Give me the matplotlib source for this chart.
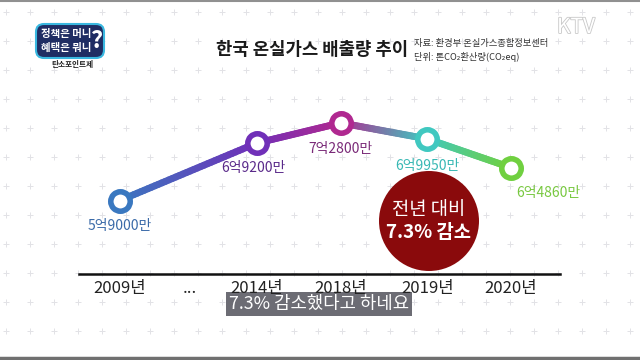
import matplotlib.pyplot as plt
import matplotlib.patheffects as pe
import numpy as np
from matplotlib.collections import LineCollection
from matplotlib.colors import to_rgb
from matplotlib.patches import Circle, FancyBboxPatch

plt.rcParams['font.family'] = ['Noto Sans CJK KR', 'DejaVu Sans']

# 데이터 (단위: 만 톤 CO2eq)
years = ['2009년', '2014년', '2018년', '2019년', '2020년']
emissions = [59000, 69200, 72800, 69950, 64860]
value_labels = ['5억9000만', '6억9200만', '7억2800만', '6억9950만', '6억4860만']

# 레이아웃 / 스타일
xpos = np.array([0, 1.61, 2.6, 3.62, 4.6])
point_colors = ['#3a78c0', '#7030b8', '#b02890', '#40c8c0', '#70d040']
label_colors = ['#3a6aa8', '#5a2a8a', '#7a2a78', '#38b8b4', '#78c840']

fig = plt.figure(figsize=(6.4, 3.6), dpi=100)
fig.patch.set_facecolor('white')

# 배경 + 무늬
bg = fig.add_axes([0, 0, 1, 1])
bg.set_xlim(0, 640)
bg.set_ylim(360, 0)
bg.axis('off')
gx, gy = np.meshgrid(np.arange(6, 640, 24), np.arange(12, 360, 29))
bg.scatter(gx.ravel(), gy.ravel(), marker='+', s=22, color='#e2e2e6', linewidths=0.7)
bg.plot([0, 640], [358, 358], color='#707070', lw=2.5)
bg.plot([0, 640], [0.5, 0.5], color='#909090', lw=1.5)

# 로고
bg.add_patch(FancyBboxPatch((38, 26), 64, 30, boxstyle='round,pad=2,rounding_size=8',
                            fc='#1f2d63', ec='#3ab8e0', lw=1.5))
bg.text(66, 34, '정책은 머니', color='white', fontsize=7.5, fontweight='bold', ha='center', va='center')
bg.text(66, 48, '혜택은 뭐니', color='white', fontsize=7.5, fontweight='bold', ha='center', va='center')
bg.text(97, 41, '?', color='white', fontsize=17, fontweight='bold', ha='center', va='center')
bg.text(72, 65, '탄소포인트제', color='#222222', fontsize=5.5, fontweight='bold', ha='center', va='center')
bg.text(576, 27, 'KTV', color='white', fontsize=15, ha='center', va='center',
        path_effects=[pe.withStroke(linewidth=1.2, foreground='#c8c8c8')])

# 제목 / 출처
bg.text(408, 50, '한국 온실가스 배출량 추이', fontsize=12.8, fontweight='bold',
        color='#1a1a1a', ha='right', va='center')
bg.text(414, 43, '자료: 환경부 온실가스종합정보센터', fontsize=6.7, color='#333333', ha='left', va='center')
bg.text(414, 57, '단위: 톤CO₂환산량(CO₂eq)', fontsize=6.7, color='#333333', ha='left', va='center')

# 차트
ax = fig.add_axes([79 / 640, 1 - 274 / 360, (560 - 79) / 640, 174 / 360])
ax.set_xlim(-0.48, 5.18)
ax.set_ylim(45935, 76869)
ax.patch.set_alpha(0)
for s in ['top', 'right', 'left']:
    ax.spines[s].set_visible(False)
ax.spines['bottom'].set_linewidth(1.8)
ax.spines['bottom'].set_color('#111111')
ax.set_yticks([])

tick_pos = list(xpos[:1]) + [0.82] + list(xpos[1:])
tick_lab = years[:1] + ['...'] + years[1:]
ax.set_xticks(tick_pos)
ax.set_xticklabels(tick_lab, fontsize=12, color='#222222')
ax.tick_params(axis='x', length=0, pad=4)

# 그라데이션 선
segs, cols = [], []
for i in range(len(xpos) - 1):
    c0, c1 = np.array(to_rgb(point_colors[i])), np.array(to_rgb(point_colors[i + 1]))
    t = np.linspace(0, 1, 40)
    xs = xpos[i] + (xpos[i + 1] - xpos[i]) * t
    ys = emissions[i] + (emissions[i + 1] - emissions[i]) * t
    for k in range(len(t) - 1):
        segs.append([(xs[k], ys[k]), (xs[k + 1], ys[k + 1])])
        cols.append(c0 + (c1 - c0) * (t[k] + t[k + 1]) / 2)
ax.add_collection(LineCollection(segs, colors=cols, linewidths=5, capstyle='round', zorder=2))

for x, y, c in zip(xpos, emissions, point_colors):
    ax.plot(x, y, 'o', ms=14, mfc='white', mec=c, mew=4, zorder=3)

offsets = [(0, -25), (-3, -25), (0, -26), (0, -27), (38, -25)]
for x, y, lab, c, (dx, dy) in zip(xpos, emissions, value_labels, label_colors, offsets):
    ax.annotate(lab, (x, y), xytext=(dx, dy), textcoords='offset pixels',
                ha='center', va='center', fontsize=10, color=c)

# 강조 원
bg.add_patch(Circle((429, 221), 50, fc='#8a0a0c', ec='none', zorder=3))
bg.text(429, 209, '전년 대비', color='white', fontsize=13.5, ha='center', va='center', zorder=4)
bg.text(429, 232, '7.3% 감소', color='white', fontsize=13.5, fontweight='bold', ha='center', va='center', zorder=4)

# 자막
bg.text(319, 304, '7.3% 감소했다고 하네요', color='white', fontsize=12.8, ha='center', va='center', zorder=5,
        bbox=dict(boxstyle='square,pad=0.15', fc='#6c6c74', ec='none'))

fig.savefig('out.png', dpi=100)
